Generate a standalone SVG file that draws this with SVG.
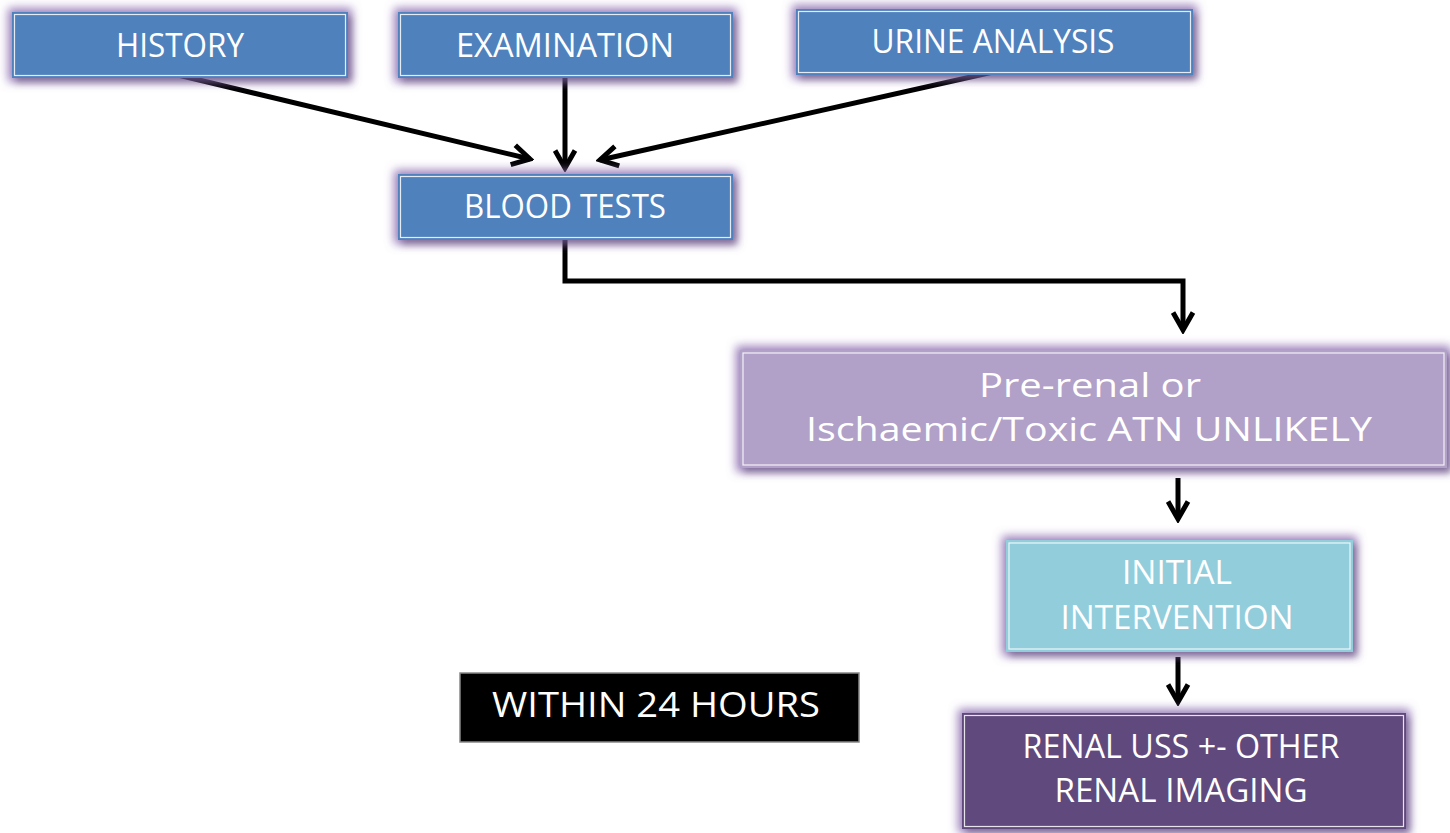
<svg xmlns="http://www.w3.org/2000/svg" width="1450" height="833" viewBox="0 0 1450 833">
<style>
.lbl{font-family:"Open Sans","Liberation Sans",sans-serif;fill:#fff;text-anchor:middle;}
.inner{fill:none;stroke:#fff;stroke-width:1.2;opacity:0.85;}
.conn{fill:none;stroke:#000;stroke-width:5;}
</style>
<defs>
<filter id="glow" x="-10%" y="-30%" width="120%" height="160%">
<feMorphology in="SourceAlpha" operator="dilate" radius="4" result="d"/>
<feGaussianBlur in="d" stdDeviation="5" result="b"/>
<feFlood flood-color="#8a6bb0" flood-opacity="0.85"/>
<feComposite in2="b" operator="in" result="g"/>
<feOffset in="SourceAlpha" dx="4" dy="5" result="o"/>
<feGaussianBlur in="o" stdDeviation="3" result="ob"/>
<feFlood flood-color="#000" flood-opacity="0.35"/>
<feComposite in2="ob" operator="in" result="s"/>
<feMerge><feMergeNode in="g"/><feMergeNode in="s"/><feMergeNode in="SourceGraphic"/></feMerge>
</filter>
<marker id="arr" viewBox="0 0 20 20" refX="17" refY="10" markerWidth="5" markerHeight="5" orient="auto" markerUnits="strokeWidth">
<path d="M3,2 L17,10 L3,18" fill="none" stroke="#000" stroke-width="4"/>
</marker>
</defs>
<g id="connectors">
<line class="conn" x1="178" y1="75" x2="530" y2="159" marker-end="url(#arr)"/>
<line class="conn" x1="565" y1="77" x2="565" y2="168" marker-end="url(#arr)"/>
<line class="conn" x1="993" y1="72" x2="600" y2="160" marker-end="url(#arr)"/>
<polyline class="conn" points="565,236 565,281 1183,281 1183,330" marker-end="url(#arr)"/>
<line class="conn" x1="1178" y1="478" x2="1178" y2="519" marker-end="url(#arr)"/>
<line class="conn" x1="1178" y1="657" x2="1178" y2="702" marker-end="url(#arr)"/>
</g>
<g id="history">
<rect x="12" y="12" width="336" height="66" fill="#4f81bd" filter="url(#glow)"/>
<rect class="inner" x="14.5" y="14.5" width="331" height="61"/>
<text class="lbl" x="180" y="57" font-size="33" textLength="128" lengthAdjust="spacingAndGlyphs">HISTORY</text>
</g>
<g id="examination">
<rect x="398" y="12" width="335" height="66" fill="#4f81bd" filter="url(#glow)"/>
<rect class="inner" x="400.5" y="14.5" width="330" height="61"/>
<text class="lbl" x="565" y="57" font-size="33" textLength="218" lengthAdjust="spacingAndGlyphs">EXAMINATION</text>
</g>
<g id="urine">
<rect x="796" y="9" width="397" height="66" fill="#4f81bd" filter="url(#glow)"/>
<rect class="inner" x="798.5" y="11.5" width="392" height="61"/>
<text class="lbl" x="993" y="53" font-size="33" textLength="243" lengthAdjust="spacingAndGlyphs">URINE ANALYSIS</text>
</g>
<g id="blood">
<rect x="398" y="174" width="335" height="66" fill="#4f81bd" filter="url(#glow)"/>
<rect class="inner" x="400.5" y="176.5" width="330" height="61"/>
<text class="lbl" x="565" y="218" font-size="33" textLength="202" lengthAdjust="spacingAndGlyphs">BLOOD TESTS</text>
</g>
<g id="prerenal">
<rect x="740" y="350" width="707" height="118" fill="#b1a0c7" filter="url(#glow)"/>
<rect class="inner" x="743" y="353" width="701" height="112"/>
<text class="lbl" x="1090" y="397" font-size="33" textLength="222" lengthAdjust="spacingAndGlyphs">Pre-renal or</text>
<text class="lbl" x="1089" y="441" font-size="33" textLength="566" lengthAdjust="spacingAndGlyphs">Ischaemic/Toxic ATN UNLIKELY</text>
</g>
<g id="initial">
<rect x="1006" y="540" width="347" height="112" fill="#92cddc" filter="url(#glow)"/>
<rect class="inner" x="1009" y="543" width="341" height="106"/>
<text class="lbl" x="1177" y="584" font-size="33" textLength="110" lengthAdjust="spacingAndGlyphs">INITIAL</text>
<text class="lbl" x="1177" y="629" font-size="33" textLength="233" lengthAdjust="spacingAndGlyphs">INTERVENTION</text>
</g>
<g id="within">
<rect x="460" y="673" width="399" height="69" fill="#000" stroke="#888" stroke-width="1.5"/>
<text class="lbl" x="656" y="717" font-size="35" font-weight="500" textLength="328" lengthAdjust="spacingAndGlyphs">WITHIN 24 HOURS</text>
</g>
<g id="renal">
<rect x="962" y="713" width="444" height="116" fill="#604a7b" filter="url(#glow)"/>
<rect class="inner" x="964.5" y="715.5" width="439" height="111"/>
<text class="lbl" x="1181" y="758" font-size="33" textLength="317" lengthAdjust="spacingAndGlyphs">RENAL USS +- OTHER</text>
<text class="lbl" x="1181" y="802" font-size="33" textLength="253" lengthAdjust="spacingAndGlyphs">RENAL IMAGING</text>
</g>
</svg>
